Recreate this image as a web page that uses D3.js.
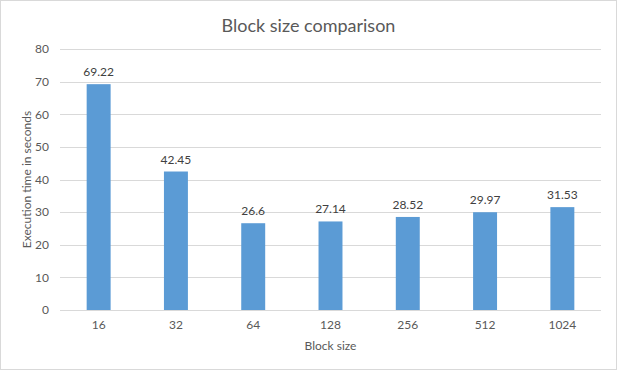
<!DOCTYPE html>
<html>
<head>
<meta charset="utf-8">
<script src="https://cdn.jsdelivr.net/npm/d3@7"></script>
<style>
  body { margin: 0; background: #fff; }
  text { font-family: Lato, "Open Sans", sans-serif; }
</style>
</head>
<body>
<div id="chart"></div>
<script>
var blockSizes = ["16", "32", "64", "128", "256", "512", "1024"];
var execTimes = [69.22, 42.45, 26.6, 27.14, 28.52, 29.97, 31.53];
var yTicks = [0, 10, 20, 30, 40, 50, 60, 70, 80];

var width = 617, height = 370;
var margin = { top: 49, right: 16, bottom: 60, left: 60 };

var svg = d3.select("#chart").append("svg").attr("width", width).attr("height", height);

svg.append("rect").attr("x", 0.5).attr("y", 0.5).attr("width", width - 1).attr("height", height - 1)
    .attr("fill", "#fff").attr("stroke", "#d9d9d9");

var x = d3.scaleBand().domain(blockSizes).range([margin.left, width - margin.right])
    .paddingInner(0.69).paddingOuter(0.345);
var y = d3.scaleLinear().domain([0, 80]).range([height - margin.bottom, margin.top]);

// gridlines
svg.append("g").selectAll("line").data(yTicks).enter().append("line")
    .attr("x1", margin.left).attr("x2", width - margin.right)
    .attr("y1", d => Math.round(y(d)) + 0.5).attr("y2", d => Math.round(y(d)) + 0.5)
    .attr("stroke", "#d9d9d9").attr("stroke-width", 1);

// y axis labels
var yAxis = d3.axisLeft(y).tickValues(yTicks).tickSize(0).tickPadding(11);
svg.append("g").attr("transform", "translate(" + margin.left + ",0)").call(yAxis)
    .call(g => g.select(".domain").remove())
    .selectAll("text").style("font-size", "12px").attr("fill", "#595959");

// bars
svg.append("g").selectAll("rect").data(execTimes).enter().append("rect")
    .attr("x", (d, i) => x(blockSizes[i]))
    .attr("width", x.bandwidth())
    .attr("y", d => y(d))
    .attr("height", d => y(0) - y(d))
    .attr("fill", "#5b9bd5");

// data labels
svg.append("g").selectAll("text").data(execTimes).enter().append("text")
    .attr("x", (d, i) => x(blockSizes[i]) + x.bandwidth() / 2)
    .attr("y", d => y(d) - 8)
    .attr("text-anchor", "middle")
    .style("font-size", "12px")
    .attr("fill", "#404040")
    .text(d => d);

// x axis
var xAxis = d3.axisBottom(x).tickSize(0).tickPadding(10);
svg.append("g").attr("transform", "translate(0," + (height - margin.bottom) + ")").call(xAxis)
    .call(g => g.select(".domain").remove())
    .selectAll("text").style("font-size", "12px").attr("fill", "#595959");

// titles
svg.append("text").attr("x", width / 2).attr("y", 32).attr("text-anchor", "middle")
    .style("font-size", "18px").attr("fill", "#595959").text("Block size comparison");

svg.append("text").attr("x", (margin.left + width - margin.right) / 2).attr("y", 350)
    .attr("text-anchor", "middle").style("font-size", "12px").attr("fill", "#595959").text("Block size");

svg.append("text").attr("transform", "translate(31," + ((margin.top + height - margin.bottom) / 2) + ") rotate(-90)")
    .attr("text-anchor", "middle").style("font-size", "12px").attr("fill", "#595959")
    .text("Execution time in seconds");
</script>
</body>
</html>
